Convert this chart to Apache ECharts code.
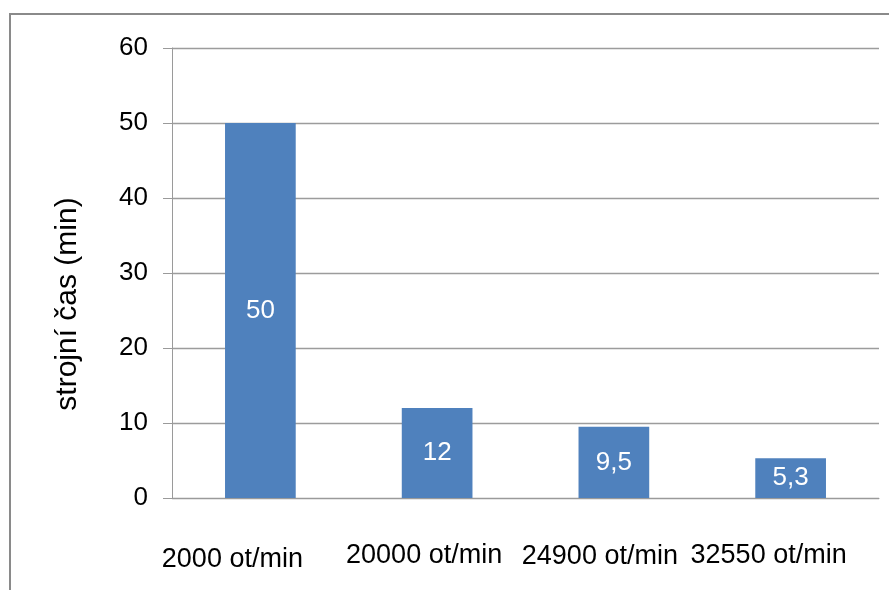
<!DOCTYPE html>
<html>
<head>
<meta charset="utf-8">
<script src="https://cdn.jsdelivr.net/npm/echarts@6/dist/echarts.min.js"></script>
<style>
html,body{margin:0;padding:0;background:#fff;}
#chart{width:889px;height:590px;}
</style>
</head>
<body>
<div id="chart"></div>
<script>
var categories = ['2000 ot/min', '20000 ot/min', '24900 ot/min', '32550 ot/min'];
var values = [50, 12, 9.5, 5.3];
var yTicks = [0, 10, 20, 30, 40, 50, 60];
var yAxisName = 'strojní čas (min)';

var chart = echarts.init(document.getElementById('chart'));
var font = '"Liberation Sans", Arial, sans-serif';
var lblBase = { color: '#000', fontFamily: font, fontSize: 27 };
function lbl(pad) { return Object.assign({ padding: pad }, lblBase); }
chart.setOption({
  animation: false,
  backgroundColor: '#ffffff',
  graphic: [{
    type: 'rect',
    shape: { x: 10, y: 14, width: 900, height: 620 },
    style: { fill: 'none', stroke: '#8a8a8a', lineWidth: 2 },
    silent: true
  }],
  grid: { left: 172, right: 10, top: 48, bottom: 92, containLabel: false },
  xAxis: {
    type: 'category',
    data: categories,
    axisLine: { show: true, lineStyle: { color: '#9a9a9a', width: 1 } },
    axisTick: { show: false },
    axisLabel: {
      interval: 0,
      color: '#000', fontFamily: font, fontSize: 27, margin: 42,
      formatter: function (v, i) { return '{l' + i + '|' + v + '}'; },
      rich: {
        l0: lbl([6, 56, 0, 0]),
        l1: lbl([2, 26, 0, 0]),
        l2: lbl([3, 28, 0, 0]),
        l3: lbl([2, 44, 0, 0])
      }
    },
    splitLine: { show: false }
  },
  yAxis: {
    type: 'value',
    min: yTicks[0],
    max: yTicks[yTicks.length - 1],
    interval: 10,
    name: yAxisName,
    nameLocation: 'middle',
    nameGap: 89,
    nameRotate: 90,
    nameTextStyle: { color: '#000', fontFamily: font, fontSize: 30, padding: [0, 62, 0, 0] },
    axisLine: { show: true, lineStyle: { color: '#9a9a9a', width: 1 } },
    axisTick: { show: true, length: 9, lineStyle: { color: '#9a9a9a' } },
    axisLabel: { color: '#000', fontFamily: font, fontSize: 26, margin: 24 },
    splitLine: { show: true, lineStyle: { color: '#9c9c9c', width: 1.3 } }
  },
  series: [{
    type: 'bar',
    data: values,
    barWidth: '40%',
    itemStyle: { color: '#4f81bd' },
    label: {
      show: true,
      position: 'inside',
      color: '#ffffff',
      fontFamily: font,
      fontSize: 26,
      formatter: function (p) { return String(p.value).replace('.', ','); }
    }
  }]
});
</script>
</body>
</html>
